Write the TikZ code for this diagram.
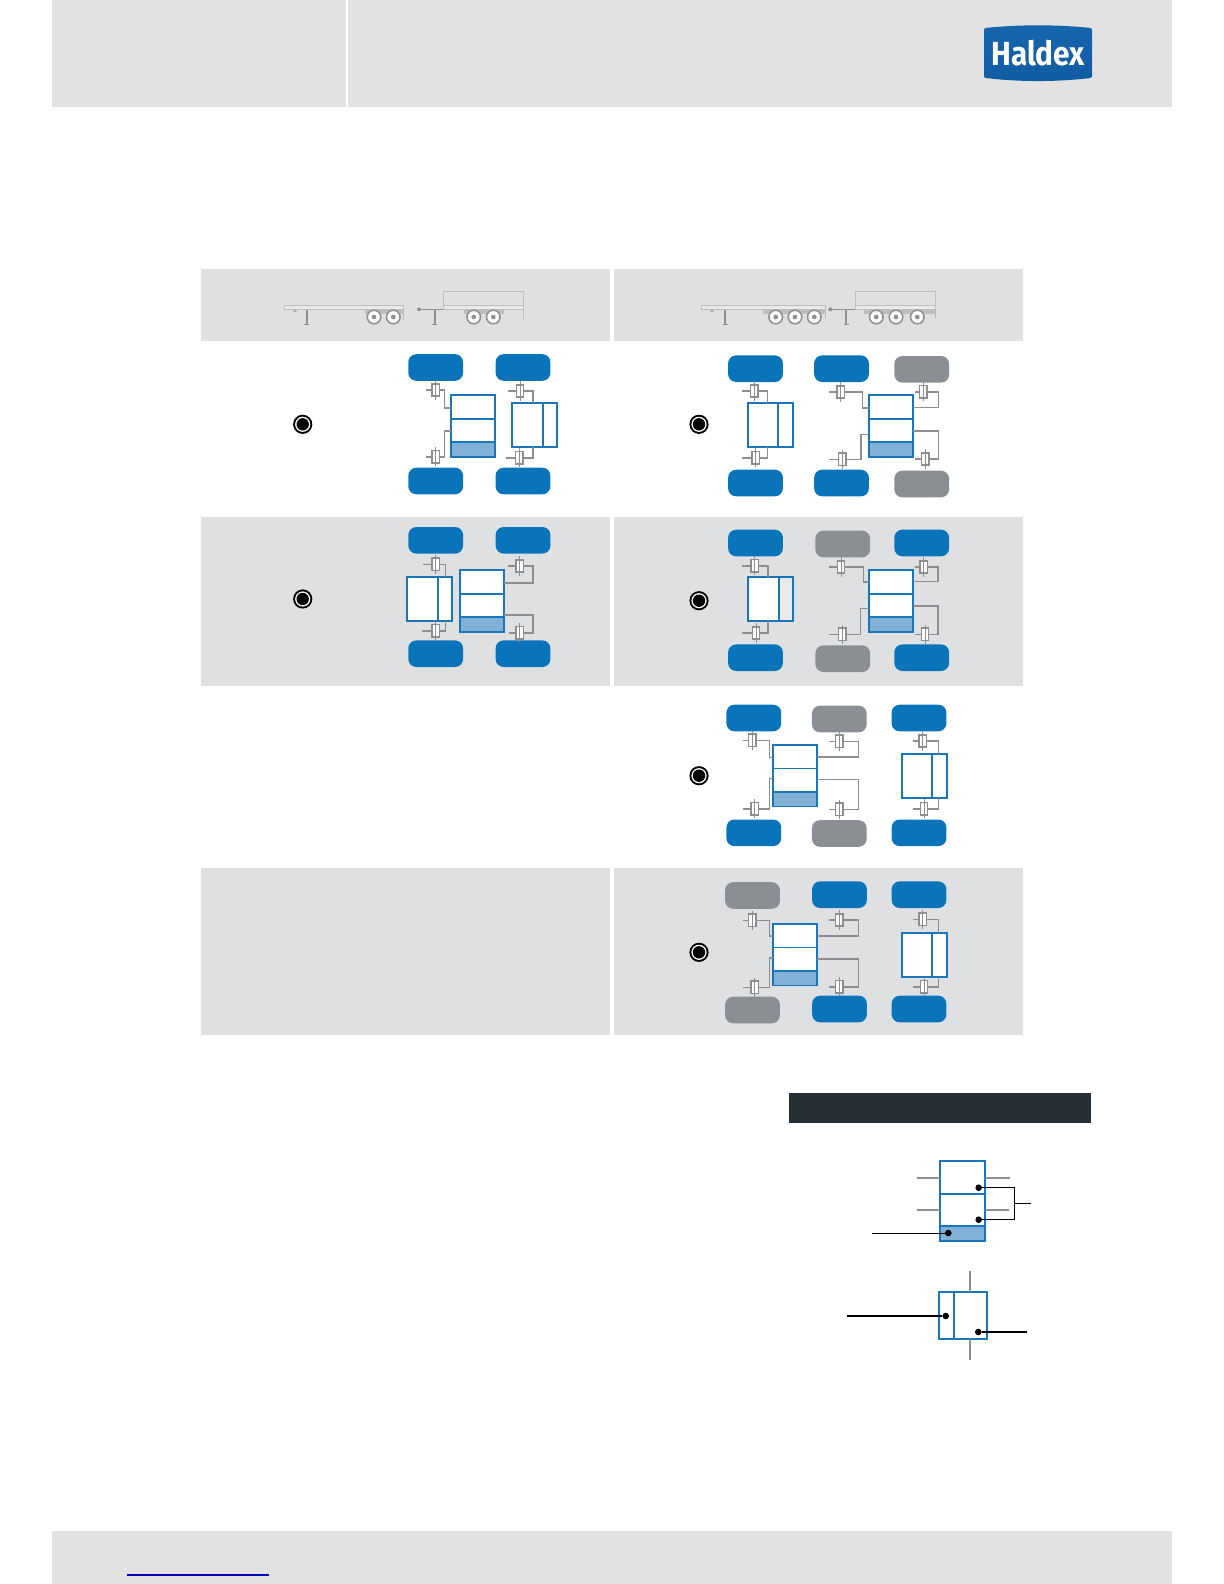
\documentclass[tikz,border=0pt]{standalone}
\usepackage{fontspec}
\newfontfamily\logofont{Fira Sans}
\definecolor{pagegray}{HTML}{E2E2E2}
\definecolor{panelgray}{HTML}{DFE0E2}
\definecolor{wheelblue}{HTML}{0A74BB}
\definecolor{wheelgray}{HTML}{8B8E92}
\definecolor{valveblue}{HTML}{1A76B8}
\definecolor{tankblue}{HTML}{82B1D8}
\definecolor{pipegray}{HTML}{8C8F92}
\definecolor{rigline}{HTML}{BCBEC0}
\definecolor{rigdark}{HTML}{8F9194}
\definecolor{bargray}{HTML}{262E33}
\definecolor{logotop}{HTML}{1565AD}
\definecolor{logomid}{HTML}{2B79BE}
\definecolor{logolow}{HTML}{115CA3}
\definecolor{linkblue}{HTML}{0000B8}
\newcommand{\brakeunit}[4]{%
  \draw[pipe] (#2,#3) -- (#4,#3);
  \node[brakebox] (#1) at (#2,#3) {};
  \draw[spindle] ([yshift=1.7pt]#1.north) -- ([yshift=-1.7pt]#1.south);
}
\newcommand{\portpipe}[4]{\draw[pipe] (#1.east) -| (#2,#3) -- (#4 |- #2,#3);}
\newcommand{\relaypipe}[3]{\draw[pipe] (#1.east) -| (#2,0 |- #3);}
\newcommand{\stackvalve}[3]{%
  \node[valvebox,anchor=north west,minimum width=22pt,minimum height=30.85pt] (#1) at (#2,#3) {};
  \fill[tankblue] (#2,#3+47) rectangle (#2+44,#3+61.7);
  \draw[valveline] (#2,#3+23.7) -- (#2+44,#3+23.7);
  \draw[valveline] (#2,#3+47) -- (#2+44,#3+47);
  \draw[valveline] (#1.north west) rectangle (#1.south east);
}
\newcommand{\relayvalve}[4]{%
  \node[valvebox,anchor=north west,minimum width=22.5pt,minimum height=22pt] (#1) at (#2,#3) {};
  \draw[valveline] (#4,#3) -- (#4,#3+44);
}
\newcommand{\roadwheel}[1]{%
  \fill[white] (#1,317) circle (3.4pt);
  \draw[rigdark,line width=0.8pt] (#1,317) circle (3.4pt);
  \fill[rigdark] (#1,317) circle (1.2pt);
}
\newcommand{\landingleg}[1]{%
  \draw[rigdark,line width=0.8pt] (#1,309.7) -- (#1,324.3);
  \draw[rigdark,line width=0.8pt] (#1-2.5,324.3) -- (#1+2.5,324.3);
}
\newcommand{\redlamp}[3]{%
  \node[lampouter] (#1) at (#2,#3) {};
  \node[lampring] at (#1) {};
  \node[lampcore] at (#1) {};
}
\begin{document}
\begin{tikzpicture}[x=0.5pt,y=-0.5pt,line cap=butt,line join=miter,
  tyre/.style={rounded corners=4pt,minimum width=27.4pt,minimum height=13.3pt,inner sep=0pt},
  tyreblue/.style={tyre,fill=wheelblue},
  tyregray/.style={tyre,fill=wheelgray},
  pipe/.style={pipegray,line width=0.8pt},
  spindle/.style={pipegray,line width=0.5pt},
  brakebox/.style={draw=pipegray,fill=white,line width=0.75pt,minimum width=3.6pt,minimum height=6.2pt,inner sep=0pt,outer sep=0pt},
  valveline/.style={valveblue,line width=0.85pt},
  valvebox/.style={draw=valveblue,fill=white,line width=0.85pt,inner sep=0pt,outer sep=0pt},
  lampouter/.style={circle,fill=black,minimum size=9.6pt,inner sep=0pt},
  lampring/.style={circle,fill=white,minimum size=7.6pt,inner sep=0pt},
  lampcore/.style={circle,fill=black,minimum size=6.2pt,inner sep=0pt},
  leadpin/.style={circle,fill=black,minimum size=3.3pt,inner sep=0pt},
  lead/.style={black,line width=0.55pt},
  deck/.style={draw=rigline,fill=panelgray!70!white,line width=0.7pt}]
  \useasboundingbox (0,0) rectangle (1224,1584);
  \fill[pagegray] (52,0) rectangle (346,107);
  \fill[pagegray] (348,0) rectangle (1172,107);
  \fill[pagegray] (52,1531) rectangle (1172,1584);
  \draw[linkblue,line width=0.6pt] (127,1575) -- (269,1575);
  \shade[top color=logotop,middle color=logomid,bottom color=logolow]
    (984,30) .. controls (984,28.5) and (985,28) .. (987,27.8) .. controls (1020,24.5) and (1056,24.5) .. (1089,27.8)
    .. controls (1091,28) and (1092,28.5) .. (1092,30) -- (1092,76) .. controls (1092,77.5) and (1091,78) .. (1089,78.2)
    .. controls (1056,82) and (1020,82) .. (987,78.2) .. controls (985,78) and (984,77.5) .. (984,76) -- cycle;
  \node[text=white,inner sep=0pt] (logo) at (1038,53.3) {\scalebox{0.89}[1]{\logofont\fontsize{16.7pt}{18pt}\selectfont\bfseries Haldex}};

  \fill[panelgray] (201,269) rectangle (610,341);
  \fill[panelgray] (614,269) rectangle (1023,341);
  \fill[panelgray] (201,517) rectangle (610,686);
  \fill[panelgray] (614,517) rectangle (1023,686);
  \fill[panelgray] (201,868) rectangle (610,1035);
  \fill[panelgray] (614,868) rectangle (1023,1035);

  \fill[rigline] (365,309.7) rectangle (403.7,314.3);
  \draw[deck] (284.3,305.7) rectangle (403.7,309.7);
  \draw[rigline,line width=0.7pt] (403.3,309.7) -- (403.3,320);
  \fill[rigdark] (293,311.5) -- (295,310) -- (297,311.5) -- cycle;
  \landingleg{306.7}
  \roadwheel{374}
  \roadwheel{393.3}
  \fill[rigdark] (419,309.3) circle (1pt);
  \draw[rigdark,line width=0.5pt] (419,309.3) -- (443.3,309.3);
  \landingleg{434.7}
  \fill[rigline] (464.3,309.7) rectangle (504,314.3);
  \draw[deck] (443.3,305.3) rectangle (523.7,309.3);
  \draw[rigline,line width=0.7pt] (443.3,291.3) rectangle (523.7,305.3);
  \draw[rigline,line width=0.7pt] (523.3,309.3) -- (523.3,319.3);
  \roadwheel{473.7}
  \roadwheel{493.3}

  \fill[rigline] (763.3,309.7) rectangle (825.7,314.3);
  \draw[deck] (701.3,305.7) rectangle (825.7,309.7);
  \draw[rigline,line width=0.7pt] (825.3,309.7) -- (825.3,319.3);
  \fill[rigdark] (710,311.5) -- (712,310) -- (714,311.5) -- cycle;
  \landingleg{725}
  \roadwheel{775.7}
  \roadwheel{795}
  \roadwheel{814.3}
  \fill[rigdark] (830.3,309.3) circle (1pt);
  \draw[rigdark,line width=0.5pt] (830.3,309.3) -- (855.3,309.3);
  \landingleg{846}
  \fill[rigline] (864,309.7) rectangle (935.7,314.3);
  \draw[deck] (855.3,305.3) rectangle (935.7,309.3);
  \draw[rigline,line width=0.7pt] (855.3,291.3) rectangle (935.7,305.3);
  \draw[rigline,line width=0.7pt] (935.3,309.3) -- (935.3,319.3);
  \roadwheel{876.3}
  \roadwheel{896}
  \roadwheel{917.3}

  \redlamp{lampa}{302.7}{424.3}
  \node[tyreblue] (ta1) at (435.7,367.5) {};
  \node[tyreblue] (ta2) at (523,367.5) {};
  \node[tyreblue] (ta3) at (435.7,481) {};
  \node[tyreblue] (ta4) at (523,481) {};
  \stackvalve{va}{451}{395.3}
  \relayvalve{ra}{512.3}{402.7}{543}
  \brakeunit{ba1}{435.7}{390}{426}
  \brakeunit{ba2}{435.7}{456.7}{426}
  \brakeunit{ba3}{520}{391}{508}
  \brakeunit{ba4}{519.3}{457.7}{506}
  \portpipe{ba1}{444.3}{407.7}{va.west}
  \portpipe{ba2}{444.3}{430.7}{va.west}
  \relaypipe{ba3}{533}{ra.north}
  \relaypipe{ba4}{533}{ra.south}

  \redlamp{lampb}{699}{424.3}
  \node[tyreblue] (tb1) at (755.5,368.7) {};
  \node[tyreblue] (tb2) at (841.5,368.7) {};
  \node[tyregray] (tb3) at (921.7,369.3) {};
  \node[tyreblue] (tb4) at (755.5,483) {};
  \node[tyreblue] (tb5) at (841.5,483) {};
  \node[tyregray] (tb6) at (921.7,484) {};
  \relayvalve{rb}{747.7}{402.7}{778}
  \stackvalve{vb}{868.7}{395.3}
  \brakeunit{bb1}{754.3}{391}{742.3}
  \brakeunit{bb2}{755.7}{457.7}{742.3}
  \brakeunit{bb3}{840.7}{392}{829.3}
  \brakeunit{bb4}{842.3}{459.3}{829.3}
  \brakeunit{bb5}{923.3}{391.7}{915}
  \brakeunit{bb6}{925.3}{459}{915}
  \relaypipe{bb1}{767.3}{rb.north}
  \relaypipe{bb2}{767.3}{rb.south}
  \portpipe{bb3}{862.3}{407.7}{vb.west}
  \portpipe{bb4}{860.7}{434.3}{vb.west}
  \portpipe{bb5}{938.3}{407.3}{vb.east}
  \portpipe{bb6}{938.3}{430.7}{vb.east}

  \redlamp{lampc}{302.7}{599}
  \node[tyreblue] (tc1) at (435.7,540.3) {};
  \node[tyreblue] (tc2) at (523,540.3) {};
  \node[tyreblue] (tc3) at (435.7,653.7) {};
  \node[tyreblue] (tc4) at (523,653.7) {};
  \relayvalve{rc}{406.7}{577.3}{437.7}
  \stackvalve{vc}{460.3}{570.3}
  \brakeunit{bc1}{435.7}{564.3}{423.3}
  \brakeunit{bc2}{435.7}{630.7}{422}
  \brakeunit{bc3}{519.7}{566}{508}
  \brakeunit{bc4}{519.7}{632.7}{509}
  \relaypipe{bc1}{445.3}{rc.north}
  \relaypipe{bc2}{445.3}{rc.south}
  \portpipe{bc3}{533}{582.7}{vc.east}
  \portpipe{bc4}{533}{614.7}{vc.east}

  \redlamp{lampd}{699}{600.7}
  \node[tyreblue] (td1) at (755.5,543) {};
  \node[tyregray] (td2) at (842.7,544) {};
  \node[tyreblue] (td3) at (921.7,543) {};
  \node[tyreblue] (td4) at (755.5,657.7) {};
  \node[tyregray] (td5) at (842.7,658.7) {};
  \node[tyreblue] (td6) at (921.7,657.7) {};
  \relayvalve{rd}{747.7}{577.3}{778.7}
  \fill[panelgray!70!white] (779.6,578.2) rectangle (791.8,620.4);
  \stackvalve{vd}{868.7}{570.3}
  \brakeunit{bd1}{754.7}{565.7}{742.3}
  \brakeunit{bd2}{756}{633}{742.3}
  \brakeunit{bd3}{841}{567}{829}
  \brakeunit{bd4}{842.3}{634.3}{829}
  \brakeunit{bd5}{923.7}{567}{915.3}
  \brakeunit{bd6}{925}{634.3}{915.3}
  \relaypipe{bd1}{767.7}{rd.north}
  \relaypipe{bd2}{767.7}{rd.south}
  \portpipe{bd3}{863.3}{582}{vd.west}
  \portpipe{bd4}{860.3}{608.3}{vd.west}
  \portpipe{bd5}{938}{581.3}{vd.east}
  \portpipe{bd6}{938}{605.7}{vd.east}

  \redlamp{lampe}{699}{775.7}
  \node[tyreblue] (te1) at (753.8,718) {};
  \node[tyregray] (te2) at (839.3,719) {};
  \node[tyreblue] (te3) at (919,718) {};
  \node[tyreblue] (te4) at (753.8,832.8) {};
  \node[tyregray] (te5) at (839.3,833.5) {};
  \node[tyreblue] (te6) at (919,832.8) {};
  \stackvalve{ve}{773.3}{744.7}
  \relayvalve{re}{901.7}{754}{932.3}
  \brakeunit{be1}{752.3}{740.3}{743}
  \brakeunit{be2}{754.7}{808.7}{743}
  \brakeunit{be3}{839.3}{741.3}{829}
  \brakeunit{be4}{839.3}{809.3}{829}
  \brakeunit{be5}{922.7}{741}{913.3}
  \brakeunit{be6}{924}{808.7}{913.3}
  \portpipe{be1}{769.3}{757.3}{ve.west}
  \portpipe{be2}{769.3}{778.3}{ve.west}
  \portpipe{be3}{858.3}{757}{ve.east}
  \portpipe{be4}{858.3}{779.3}{ve.east}
  \relaypipe{be5}{938.3}{re.north}
  \relaypipe{be6}{938.3}{re.south}

  \redlamp{lampf}{699}{952.3}
  \node[tyregray] (tf1) at (752.5,895.5) {};
  \node[tyreblue] (tf2) at (839.5,894.7) {};
  \node[tyreblue] (tf3) at (919,894.7) {};
  \node[tyregray] (tf4) at (752.5,1010) {};
  \node[tyreblue] (tf5) at (839.5,1009) {};
  \node[tyreblue] (tf6) at (919,1009) {};
  \stackvalve{vf}{773.3}{923.7}
  \relayvalve{rf}{901.7}{933}{932.3}
  \brakeunit{bf1}{752.3}{920.3}{743}
  \brakeunit{bf2}{754.7}{987.3}{743}
  \brakeunit{bf3}{839.3}{920}{829}
  \brakeunit{bf4}{839.3}{986.7}{829}
  \brakeunit{bf5}{922.7}{919.3}{913.3}
  \brakeunit{bf6}{924}{986.7}{913.3}
  \portpipe{bf1}{769.3}{936}{vf.west}
  \portpipe{bf2}{769.3}{957.7}{vf.west}
  \portpipe{bf3}{858.3}{936}{vf.east}
  \portpipe{bf4}{858.3}{958.7}{vf.east}
  \relaypipe{bf5}{938.3}{rf.north}
  \relaypipe{bf6}{938.3}{rf.south}

  \fill[bargray] (789,1093) rectangle (1091,1122.7);

  \node[valvebox,anchor=north west,minimum width=22.65pt,minimum height=39.85pt] (legstack) at (940,1161) {};
  \fill[tankblue] (940,1226) rectangle (985.3,1240.7);
  \draw[valveline] (940,1193.7) -- (985.3,1193.7);
  \draw[valveline] (940,1226) -- (985.3,1226);
  \draw[valveline] (legstack.north west) rectangle (legstack.south east);
  \coordinate (legpa) at (917,1178);
  \coordinate (legpb) at (917,1210);
  \coordinate (legpc) at (1010,1178);
  \coordinate (legpd) at (1009,1210);
  \draw[pipe] (legpa) -- (legstack.west |- legpa);
  \draw[pipe] (legpb) -- (legstack.west |- legpb);
  \draw[pipe] (legpc) -- (legstack.east |- legpc);
  \draw[pipe] (legpd) -- (legstack.east |- legpd);
  \node[leadpin] (pina) at (978.7,1187.7) {};
  \node[leadpin] (pinb) at (978.7,1219.7) {};
  \node[leadpin] (pinc) at (948.3,1233) {};
  \coordinate (legbrace) at (1014.3,1203.5);
  \coordinate (legendr) at (1031,1203.5);
  \coordinate (legendl) at (872,1233.5);
  \draw[lead] (pina) -| (legbrace);
  \draw[lead] (pinb) -| (legbrace);
  \draw[lead] (legbrace) -- (legendr);
  \draw[lead] (pinc.west |- legendl) -- (legendl);

  \node[valvebox,anchor=north west,minimum width=23.7pt,minimum height=23.2pt] (legrelay) at (939.3,1292.3) {};
  \draw[valveline] (954,0 |- legrelay.north) -- (954,0 |- legrelay.south);
  \coordinate (legpe) at (970,1271);
  \coordinate (legpf) at (970,1360);
  \draw[pipe] (legpe) -- (legrelay.north -| legpe);
  \draw[pipe] (legpf) -- (legrelay.south -| legpf);
  \node[leadpin] (pind) at (945.7,1316) {};
  \node[leadpin] (pine) at (978.3,1332) {};
  \coordinate (legendm) at (847,1316);
  \coordinate (legendn) at (1027,1332);
  \draw[lead] (pind) -- (legendm);
  \draw[lead] (pine) -- (legendn);
\end{tikzpicture}
\end{document}
